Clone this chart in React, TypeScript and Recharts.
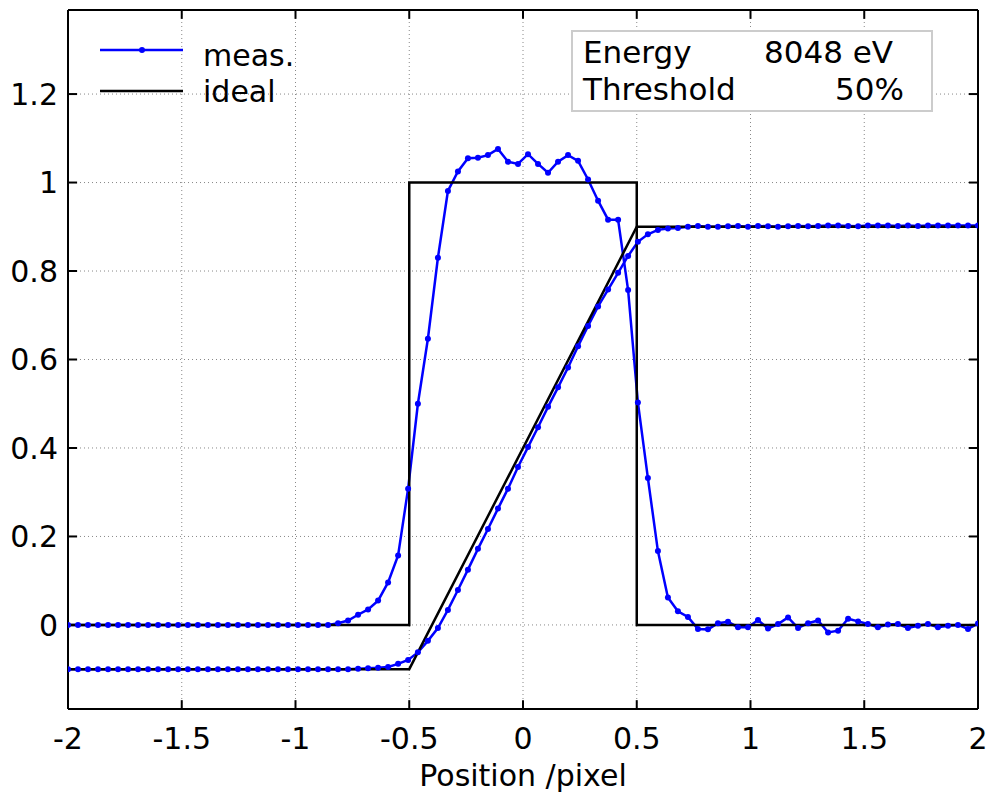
import {
	CartesianGrid,
	Legend,
	Line,
	LineChart,
	ReferenceLine,
	XAxis,
	YAxis,
} from "recharts";

// sample positions of the measured profiles (pixel units)
const xPos = [
	-2.0, -1.956, -1.912, -1.868, -1.824, -1.78, -1.736, -1.692, -1.648, -1.604,
	-1.56, -1.516, -1.473, -1.429, -1.385, -1.341, -1.297, -1.253, -1.209, -1.165,
	-1.121, -1.077, -1.033, -0.989, -0.945, -0.901, -0.857, -0.813, -0.769, -0.725,
	-0.681, -0.637, -0.593, -0.549, -0.505, -0.462, -0.418, -0.374, -0.33, -0.286,
	-0.242, -0.198, -0.154, -0.11, -0.066, -0.022, 0.022, 0.066, 0.11, 0.154,
	0.198, 0.242, 0.286, 0.33, 0.374, 0.418, 0.462, 0.505, 0.549, 0.593,
	0.637, 0.681, 0.725, 0.769, 0.813, 0.857, 0.901, 0.945, 0.989, 1.033,
	1.077, 1.121, 1.165, 1.209, 1.253, 1.297, 1.341, 1.385, 1.429, 1.473,
	1.516, 1.56, 1.604, 1.648, 1.692, 1.736, 1.78, 1.824, 1.868, 1.912,
	1.956, 2.0,
];

// measured pixel response (box)
const measBox = [
	0, 0, 0, 0, 0, 0, 0, 0, 0, 0,
	0, 0, 0, 0, 0, 0, 0, 0, 0, 0,
	0, 0, 0, 0, 0, 0, 0.0, 0.004, 0.01, 0.023,
	0.035, 0.055, 0.096, 0.157, 0.308, 0.5, 0.647, 0.83, 0.981, 1.025,
	1.055, 1.056, 1.062, 1.076, 1.047, 1.042, 1.064, 1.042, 1.022, 1.047,
	1.062, 1.049, 1.007, 0.959, 0.916, 0.916, 0.757, 0.503, 0.332, 0.167,
	0.062, 0.031, 0.018, -0.009, -0.01, 0.004, 0.007, -0.005, -0.005, 0.011,
	-0.008, 0.002, 0.017, -0.007, 0.004, 0.01, -0.017, -0.013, 0.014, 0.008,
	0.002, -0.005, 0.001, 0.002, -0.007, -0.002, 0.002, -0.005, -0.002, 0.0,
	-0.009, 0.003,
];

// measured edge response (shifted by -0.1)
const measEdge = [
	-0.1, -0.1, -0.1, -0.1, -0.1, -0.1, -0.1, -0.1, -0.1, -0.1,
	-0.1, -0.1, -0.1, -0.1, -0.1, -0.1, -0.1, -0.1, -0.1, -0.1,
	-0.1, -0.1, -0.1, -0.1, -0.1, -0.1, -0.1, -0.1, -0.1, -0.099,
	-0.098, -0.097, -0.095, -0.088, -0.079, -0.062, -0.036, -0.007, 0.034, 0.079,
	0.125, 0.172, 0.217, 0.263, 0.308, 0.357, 0.402, 0.447, 0.493, 0.537,
	0.582, 0.63, 0.676, 0.72, 0.758, 0.796, 0.834, 0.866, 0.883, 0.893,
	0.896, 0.897, 0.9, 0.902, 0.9, 0.9, 0.901, 0.902, 0.9, 0.902,
	0.901, 0.9, 0.901, 0.902, 0.901, 0.902, 0.903, 0.903, 0.902, 0.901,
	0.903, 0.903, 0.903, 0.902, 0.903, 0.902, 0.903, 0.903, 0.903, 0.903,
	0.903, 0.903,
];

// ideal responses
const idealBoxX = [-2, -0.5, -0.5, 0.5, 0.5, 2];
const idealBoxY = [0, 0, 1, 1, 0, 0];
const idealEdgeX = [-2, -0.5, 0.5, 2];
const idealEdgeY = [-0.1, -0.1, 0.9, 0.9];

const xTicks = [-2, -1.5, -1, -0.5, 0, 0.5, 1, 1.5, 2];
const yTicks = [0, 0.2, 0.4, 0.6, 0.8, 1, 1.2];
const xDomain = [-2, 2];
const yDomain = [-0.19, 1.39];

const FONT = "'DejaVu Sans', sans-serif";
const BLUE = "#0000ff";

const boxData = xPos.map((x, i) => ({ x, y: measBox[i] }));
const edgeData = xPos.map((x, i) => ({ x, y: measEdge[i] }));
const idealBox = idealBoxX.map((x, i) => ({ x, y: idealBoxY[i] }));
const idealEdge = idealEdgeX.map((x, i) => ({ x, y: idealEdgeY[i] }));

const TICK_X = 0.04; // inward tick length in x units (~9px)
const TICK_Y = 0.02; // inward tick length in y units (~9px)

function LegendBox() {
	return (
		<svg width={340} height={120} style={{ display: "block" }}>
			<line x1={100} y1={50} x2={183} y2={50} stroke={BLUE} strokeWidth={2.5} />
			<circle cx={142} cy={50} r={3} fill={BLUE} />
			<text x={203} y={66} fontFamily={FONT} fontSize={30} fill="#000">
				meas.
			</text>
			<line x1={100} y1={91} x2={183} y2={91} stroke="#000" strokeWidth={2.5} />
			<text x={203} y={102} fontFamily={FONT} fontSize={30} fill="#000">
				ideal
			</text>
		</svg>
	);
}

const tickLine = (key: string, a: { x: number; y: number }, b: { x: number; y: number }) => (
	<ReferenceLine
		key={key}
		segment={[a, b]}
		stroke="#000"
		strokeWidth={2}
		ifOverflow="visible"
	/>
);

export default function App() {
	return (
		<div
			style={{
				position: "absolute",
				left: 0,
				top: 0,
				width: 992,
				height: 794,
				background: "#fff",
			}}
		>
			<LineChart
				width={992}
				height={794}
				margin={{ top: 10, right: 14, left: 0, bottom: 0 }}
			>
				<CartesianGrid
					stroke="#888"
					strokeDasharray="1 3"
					strokeWidth={1}
				/>
				<XAxis
					type="number"
					dataKey="x"
					domain={xDomain}
					ticks={xTicks}
					allowDataOverflow
					height={85}
					tickLine={false}
					tickSize={6}
					tickMargin={13}
					axisLine={{ stroke: "#000", strokeWidth: 2 }}
					tick={{ fill: "#000", fontSize: 30, fontFamily: FONT }}
					label={{
						value: "Position /pixel",
						position: "insideBottom",
						offset: 8,
						fill: "#000",
						fontSize: 30,
						fontFamily: FONT,
					}}
				/>
				<YAxis
					type="number"
					domain={yDomain}
					ticks={yTicks}
					allowDataOverflow
					width={68}
					tickLine={false}
					tickSize={6}
					tickMargin={4}
					axisLine={{ stroke: "#000", strokeWidth: 2 }}
					tick={{ fill: "#000", fontSize: 30, fontFamily: FONT }}
				/>
				{/* frame: top and right */}
				<ReferenceLine y={yDomain[1]} stroke="#000" strokeWidth={2} />
				<ReferenceLine x={xDomain[1]} stroke="#000" strokeWidth={2} />
				{/* inward ticks */}
				{xTicks.slice(1, -1).map((t) =>
					tickLine(`xb${t}`, { x: t, y: yDomain[0] }, { x: t, y: yDomain[0] + TICK_Y }),
				)}
				{xTicks.slice(1, -1).map((t) =>
					tickLine(`xt${t}`, { x: t, y: yDomain[1] }, { x: t, y: yDomain[1] - TICK_Y }),
				)}
				{yTicks.map((t) =>
					tickLine(`yl${t}`, { x: xDomain[0], y: t }, { x: xDomain[0] + TICK_X, y: t }),
				)}
				{yTicks.map((t) =>
					tickLine(`yr${t}`, { x: xDomain[1], y: t }, { x: xDomain[1] - TICK_X, y: t }),
				)}
				<Line
					data={boxData}
					dataKey="y"
					type="linear"
					stroke={BLUE}
					strokeWidth={2.5}
					dot={{ r: 3, fill: BLUE, stroke: BLUE, strokeWidth: 0 }}
					activeDot={false}
					isAnimationActive={false}
					name="meas."
				/>
				<Line
					data={edgeData}
					dataKey="y"
					type="linear"
					stroke={BLUE}
					strokeWidth={2.5}
					dot={{ r: 3, fill: BLUE, stroke: BLUE, strokeWidth: 0 }}
					activeDot={false}
					isAnimationActive={false}
					legendType="none"
				/>
				<Line
					data={idealBox}
					dataKey="y"
					type="linear"
					stroke="#000"
					strokeWidth={2.5}
					dot={false}
					activeDot={false}
					isAnimationActive={false}
					name="ideal"
				/>
				<Line
					data={idealEdge}
					dataKey="y"
					type="linear"
					stroke="#000"
					strokeWidth={2.5}
					dot={false}
					activeDot={false}
					isAnimationActive={false}
					legendType="none"
				/>
				<Legend
					layout="vertical"
					align="center"
					verticalAlign="middle"
					content={() => <LegendBox />}
					wrapperStyle={{ left: 0, top: 0, width: 340, height: 120 }}
				/>
			</LineChart>
			{/* annotation box */}
			<div
				style={{
					position: "absolute",
					left: 571,
					top: 30,
					width: 358,
					height: 78,
					border: "2px solid #cccccc",
					background: "#fff",
					fontFamily: FONT,
					fontSize: 31,
					lineHeight: "36px",
					color: "#000",
				}}
			>
				<span style={{ position: "absolute", left: 10, top: 2, whiteSpace: "nowrap" }}>
					Energy
				</span>
				<span style={{ position: "absolute", left: 191, top: 2, whiteSpace: "nowrap" }}>
					8048 eV
				</span>
				<span style={{ position: "absolute", left: 10, top: 39, whiteSpace: "nowrap" }}>
					Threshold
				</span>
				<span style={{ position: "absolute", right: 27, top: 39, whiteSpace: "nowrap" }}>
					50%
				</span>
			</div>
		</div>
	);
}
